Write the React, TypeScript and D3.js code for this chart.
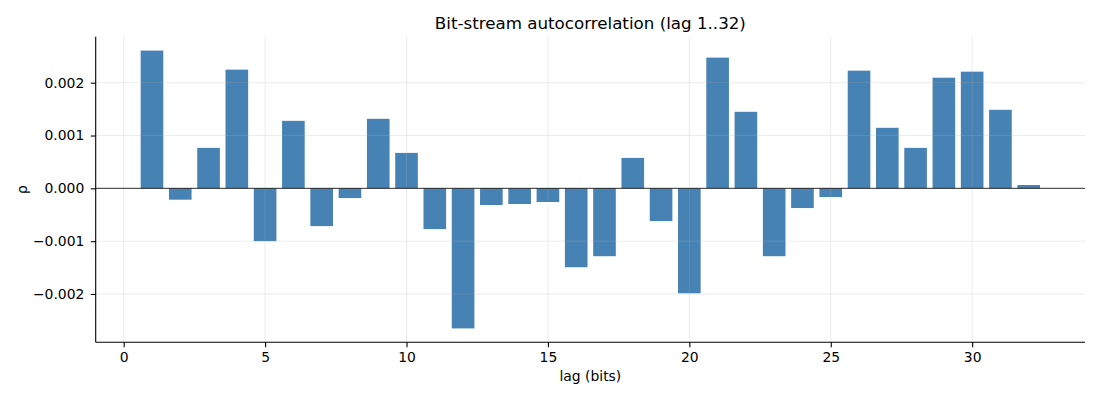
import { useEffect, useRef } from "react";
import * as d3 from "d3";

const lags = d3.range(1, 33);
const rho = [
  2.608, -0.215, 0.766, 2.247, -1.0, 1.278, -0.715, -0.184, 1.316, 0.671,
  -0.772, -2.652, -0.316, -0.297, -0.259, -1.494, -1.285, 0.576, -0.62,
  -1.987, 2.475, 1.449, -1.285, -0.373, -0.165, 2.228, 1.146, 0.766, 2.095,
  2.209, 1.487, 0.063,
].map((v) => v / 1000);
const xTicks = [0, 5, 10, 15, 20, 25, 30];
const yTicks = [-0.002, -0.001, 0, 0.001, 0.002];

const W = 1100;
const H = 400;
const FONT = "DejaVu Sans, sans-serif";

export default function App() {
  const svgRef = useRef<SVGSVGElement | null>(null);

  useEffect(() => {
    const svg = d3.select(svgRef.current);
    svg.selectAll("*").remove();

    const left = 95.7;
    const right = 1085;
    const top = 36.7;
    const bottom = 342.3;

    const x = d3.scaleLinear().domain([-0.99, 33.99]).range([left, right]);
    const y = d3.scaleLinear().domain([-0.002915, 0.002871]).range([bottom, top]);

    // bars
    svg
      .append("g")
      .selectAll("rect")
      .data(lags)
      .join("rect")
      .attr("x", (d) => x(d - 0.4))
      .attr("width", (d) => x(d + 0.4) - x(d - 0.4))
      .attr("y", (d, i) => y(Math.max(0, rho[i])))
      .attr("height", (d, i) => Math.abs(y(rho[i]) - y(0)))
      .attr("fill", "#4682b4");

    // grid
    const grid = svg.append("g").attr("stroke", "#b0b0b0").attr("stroke-opacity", 0.3).attr("stroke-width", 0.8);
    xTicks.forEach((t) => {
      grid.append("line").attr("x1", x(t)).attr("x2", x(t)).attr("y1", top).attr("y2", bottom);
    });
    yTicks.forEach((t) => {
      grid.append("line").attr("x1", left).attr("x2", right).attr("y1", y(t)).attr("y2", y(t));
    });

    // zero line
    svg
      .append("line")
      .attr("x1", left)
      .attr("x2", right)
      .attr("y1", y(0))
      .attr("y2", y(0))
      .attr("stroke", "#000")
      .attr("stroke-width", 0.8);

    const xAxis = svg
      .append("g")
      .attr("transform", `translate(0,${bottom})`)
      .call(d3.axisBottom(x).tickValues(xTicks).tickSize(4.9).tickPadding(4.9).tickFormat(d3.format("d")));
    xAxis.select(".domain").attr("d", `M${left},0H${right}`);

    const yAxis = svg
      .append("g")
      .attr("transform", `translate(${left},0)`)
      .call(
        d3
          .axisLeft(y)
          .tickValues(yTicks)
          .tickSize(4.9)
          .tickPadding(6.5)
          .tickFormat((d) => d3.format(".3f")(d as number).replace("-", "\u2212"))
      );
    yAxis.select(".domain").attr("d", `M0,${top}V${bottom}`);

    [xAxis, yAxis].forEach((g) => {
      g.select(".domain").attr("stroke", "#000").attr("stroke-width", 1.1);
      g.selectAll(".tick line").attr("stroke", "#000").attr("stroke-width", 1.1);
      g.selectAll(".tick text").attr("font-family", FONT).attr("font-size", 13.9).attr("fill", "#000");
    });

    svg
      .append("text")
      .attr("x", (left + right) / 2)
      .attr("y", 29)
      .attr("text-anchor", "middle")
      .attr("font-family", FONT)
      .attr("font-size", 16.7)
      .text("Bit-stream autocorrelation (lag 1..32)");

    svg
      .append("text")
      .attr("x", (left + right) / 2)
      .attr("y", 381)
      .attr("text-anchor", "middle")
      .attr("font-family", FONT)
      .attr("font-size", 13.9)
      .text("lag (bits)");

    svg
      .append("text")
      .attr("transform", `translate(27,${(top + bottom) / 2}) rotate(-90)`)
      .attr("text-anchor", "middle")
      .attr("font-family", FONT)
      .attr("font-size", 13.9)
      .text("ρ");
  }, []);

  return (
    <div style={{ position: "absolute", left: 0, top: 0, background: "#fff" }}>
      <svg ref={svgRef} width={W} height={H} style={{ display: "block" }} />
    </div>
  );
}
